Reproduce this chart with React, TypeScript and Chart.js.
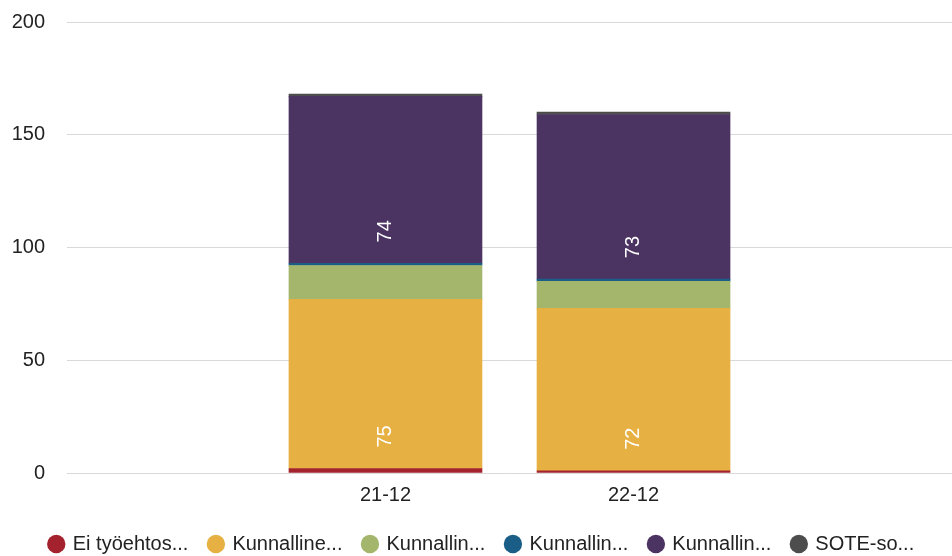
import React, { useEffect, useRef } from "react";
import { Chart, registerables } from "chart.js";

Chart.register(...registerables);

const categories = ["21-12", "22-12"];
const seriesNames = [
  "Ei työehtos...",
  "Kunnalline...",
  "Kunnallin...",
  "Kunnallin...",
  "Kunnallin...",
  "SOTE-so...",
];
const seriesColors = ["#a3222d", "#e6b042", "#a3b66c", "#1a5d87", "#4b3362", "#4d4d4d"];
const eiTyoehtos = [2, 1];
const kunnallinen1 = [75, 72];
const kunnallinen2 = [15, 12];
const kunnallinen3 = [1, 1];
const kunnallinen4 = [74, 73];
const sote = [1, 1];
const seriesValues = [eiTyoehtos, kunnallinen1, kunnallinen2, kunnallinen3, kunnallinen4, sote];
const yTicks = [0, 50, 100, 150, 200];

const FONT = '"Liberation Sans", Arial, sans-serif';

const barLabels = {
  id: "barLabels",
  afterDatasetsDraw(chart: any) {
    const ctx = chart.ctx;
    chart.data.datasets.forEach((ds: any, di: number) => {
      const meta = chart.getDatasetMeta(di);
      meta.data.forEach((bar: any, i: number) => {
        const v = ds.data[i].y;
        if (v < 20) return;
        const p = bar.getProps(["x", "base"], true);
        ctx.save();
        ctx.translate(p.x, p.base - 32);
        ctx.rotate(-Math.PI / 2);
        ctx.fillStyle = "#ffffff";
        ctx.font = "20px " + FONT;
        ctx.textAlign = "center";
        ctx.textBaseline = "middle";
        ctx.fillText(String(v), 0, 0);
        ctx.restore();
      });
    });
  },
};

const legendShift = {
  id: "legendShift",
  afterLayout(chart: any) {
    const l = chart.legend;
    if (l) {
      l.top += 8;
      l.bottom += 8;
      l.left += 6;
      l.right += 6;
    }
  },
};

export default function App() {
  const ref = useRef<HTMLCanvasElement | null>(null);
  useEffect(() => {
    document.body.style.margin = "0";
    if (!ref.current) return;
    const chart = new Chart(ref.current, {
      type: "bar",
      data: {
        datasets: seriesNames.map((name, si) => ({
          label: name,
          data: seriesValues[si].map((v, ci) => ({ x: ci, y: v })),
          backgroundColor: seriesColors[si],
          borderWidth: 0,
          barThickness: 193,
        })),
      },
      options: {
        responsive: false,
        animation: false,
        devicePixelRatio: 1,
        layout: { padding: { top: 22, right: 0, left: 0, bottom: 0 } },
        plugins: {
          tooltip: { enabled: false },
          legend: {
            position: "bottom",
            labels: {
              usePointStyle: true,
              pointStyle: "circle",
              boxWidth: 13,
              boxHeight: 13,
              padding: 21,
              color: "#222222",
              font: { size: 20, family: FONT },
            },
          },
        },
        scales: {
          x: {
            type: "linear",
            stacked: true,
            offset: false,
            min: -1.284,
            max: 2.284,
            grid: { display: false, drawTicks: false },
            border: { display: false },
            afterBuildTicks: (scale: any) => {
              scale.ticks = categories.map((_, i) => ({ value: i }));
            },
            afterFit: (scale: any) => {
              scale.height = 32;
            },
            ticks: {
              padding: 10,
              color: "#222222",
              font: { size: 20, family: FONT },
              callback: (v: any) => categories[v] ?? "",
            },
          },
          y: {
            stacked: true,
            min: 0,
            max: 200,
            afterBuildTicks: (scale: any) => {
              scale.ticks = yTicks.map((v) => ({ value: v }));
            },
            afterFit: (scale: any) => {
              scale.width = 67;
              scale.paddingTop = 12;
              scale.paddingBottom = 12;
            },
            grid: { color: "#d9d9d9", lineWidth: 1, drawTicks: false },
            border: { display: false },
            ticks: {
              padding: 22,
              color: "#222222",
              font: { size: 20, family: FONT },
            },
          },
        },
      },
      plugins: [barLabels, legendShift],
    });
    return () => chart.destroy();
  }, []);
  return (
    <div style={{ width: 952, height: 556 }}>
      <canvas ref={ref} width={952} height={556} style={{ display: "block" }} />
    </div>
  );
}
